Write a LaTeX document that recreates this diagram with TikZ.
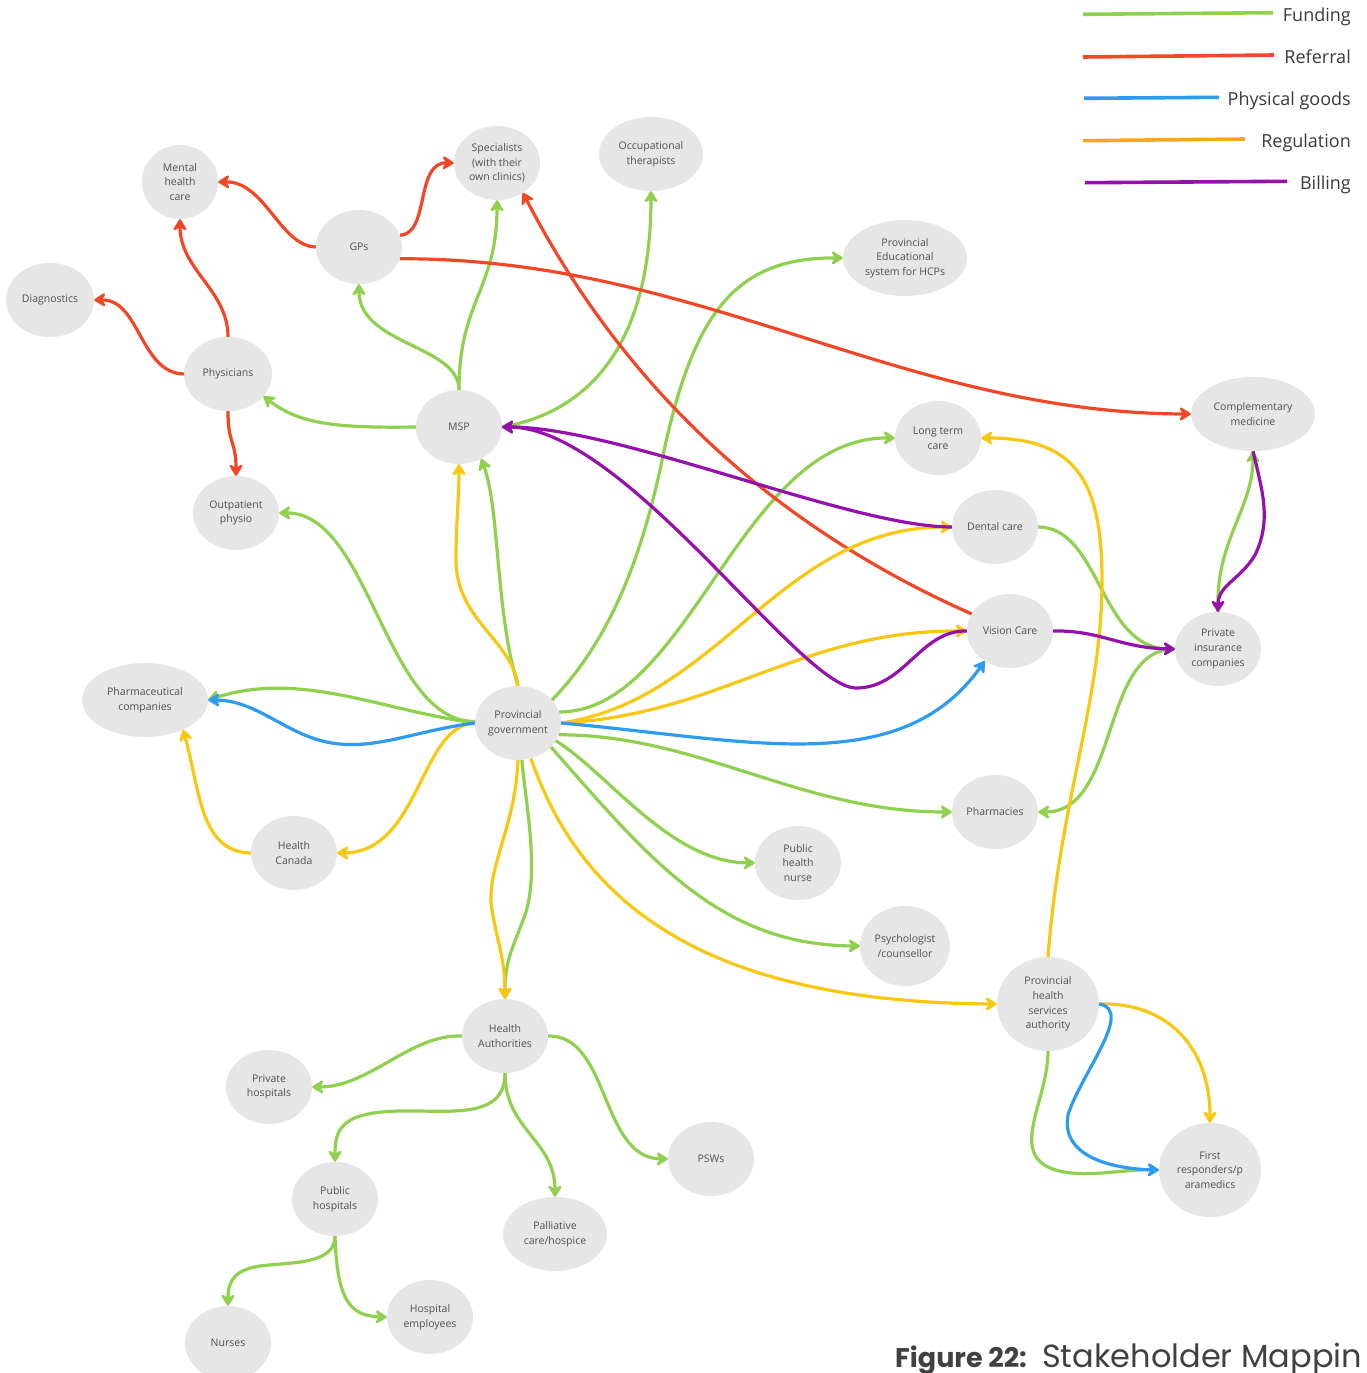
\documentclass[tikz,border=0pt]{standalone}
\usepackage{fontspec}
\setmainfont{Open Sans}
\newfontfamily\capfont{Poppins}
\usetikzlibrary{shapes.geometric,arrows.meta}

\definecolor{cfund}{HTML}{8FD14F}
\definecolor{crefer}{HTML}{F24726}
\definecolor{cgoods}{HTML}{2D9BF0}
\definecolor{cregu}{HTML}{FAC710}
\definecolor{cregulegend}{HTML}{F9A61A}
\definecolor{cbill}{HTML}{9510AC}
\definecolor{nodefill}{HTML}{E6E6E6}
\definecolor{nodetext}{HTML}{505050}
\definecolor{legendtext}{HTML}{3A3A3A}
\definecolor{captext}{HTML}{414141}

\tikzset{
  actor/.style={ellipse, fill=nodefill, inner sep=0pt, align=center,
    text=nodetext, font=\fontsize{10.5}{14.7}\selectfont,
    minimum width=86pt, minimum height=74pt},
  flow/.style={line width=3.2pt,
    -{Stealth[length=14pt,width=17pt,inset=5pt,round]}},
  fund/.style={flow, draw=cfund},
  refer/.style={flow, draw=crefer},
  goods/.style={flow, draw=cgoods},
  regu/.style={flow, draw=cregu},
  bill/.style={flow, draw=cbill},
  swatch/.style={line width=3.6pt},
  keytext/.style={anchor=base east, inner sep=0pt, text=legendtext,
    font=\fontsize{18}{22}\selectfont},
}

\begin{document}
\begin{tikzpicture}[x=1pt,y=-1pt]
\fill[white] (0,0) rectangle (1367,1373);
\useasboundingbox (0,0) rectangle (1367,1373);

% ---------- stakeholders ----------
\node[actor, minimum width=76pt] (ment) at (180,182) {Mental\\health\\care};
\node[actor] (spec) at (497,163) {Specialists\\(with their\\own clinics)};
\node[actor, minimum width=104pt] (occ) at (651,154) {Occupational\\therapists};
\node[actor] (gps) at (359,247) {GPs};
\node[actor, minimum width=124pt, minimum height=76pt] (pes) at (905,258) {Provincial\\Educational\\system for HCPs};
\node[actor, minimum width=88pt] (diag) at (50,300) {Diagnostics};
\node[actor, minimum width=88pt] (phys) at (228,374) {Physicians};
\node[actor] (msp) at (459,427) {MSP};
\node[actor, minimum width=124pt] (comp) at (1253,414) {Complementary\\medicine};
\node[actor] (ltc) at (938,438) {Long term\\care};
\node[actor] (outp) at (236,513) {Outpatient\\physio};
\node[actor] (dent) at (995,527) {Dental care};
\node[actor] (vis) at (1010,631) {Vision Care};
\node[actor] (pins) at (1218,649) {Private\\insurance\\companies};
\node[actor, minimum width=126pt] (pharma) at (145,700) {Pharmaceutical\\companies};
\node[actor] (pg) at (518,723) {Provincial\\government};
\node[actor] (pharm) at (995,812) {Pharmacies};
\node[actor] (hc) at (294,853) {Health\\Canada};
\node[actor] (phn) at (798,863) {Public\\health\\nurse};
\node[actor, minimum width=90pt, minimum height=80pt] (psy) at (905,946) {Psychologist\\/counsellor};
\node[actor, minimum width=102pt, minimum height=94pt] (phsa) at (1048,1004) {Provincial\\health\\services\\authority};
\node[actor] (ha) at (505,1036) {Health\\Authorities};
\node[actor] (priv) at (269,1087) {Private\\hospitals};
\node[actor, minimum width=102pt, minimum height=94pt] (fr) at (1210,1170) {First\\responders/p\\aramedics};
\node[actor] (psw) at (711,1159) {PSWs};
\node[actor] (pubh) at (335,1199) {Public\\hospitals};
\node[actor, minimum width=104pt] (pall) at (555,1234) {Palliative\\care/hospice};
\node[actor] (hosp) at (430,1317) {Hospital\\employees};
\node[actor] (nurse) at (228,1343) {Nurses};

% ---------- funding ----------
\draw[fund] (msp.west) .. controls (340,428) and (300,425) .. (phys.-32);
\draw[fund] (msp.north) .. controls (459,345) and (359,345) .. (gps.south);
\draw[fund] (msp.north) .. controls (459,300) and (497,290) .. (spec.south);
\draw[fund] (pg.north) .. controls (495,610) and (500,510) .. (msp.-55);
\draw[fund] (msp.east) .. controls (600,410) and (651,330) .. (occ.south);
\draw[fund] (pg.34) .. controls (610,640) and (640,560) .. (660,470)
  .. controls (690,320) and (730,257) .. (pes.west);
\draw[fund] (pg.15) .. controls (690,712) and (740,437) .. (ltc.west);
\draw[fund] (pg.178) .. controls (385,722) and (370,512) .. (outp.east);
\draw[fund] (pg.west) .. controls (380,710) and (300,670) .. (pharma.east);
\draw[fund] (pg.-16) .. controls (700,735) and (800,812) .. (pharm.west);
\draw[fund] (pg.-25) .. controls (610,775) and (670,862) .. (phn.west);
\draw[fund] (pg.-36) .. controls (650,860) and (720,945) .. (psy.west);
\draw[fund] (dent.east) .. controls (1100,527) and (1100,648) .. (pins.west);
\draw[fund] (pins.west) .. controls (1100,648) and (1120,812) .. (pharm.east);
\draw[fund] (pins.north) .. controls (1215,540) and (1253,510) .. (comp.south);
\draw[fund] (pg.-84) .. controls (525,800) and (540,870) .. (525,915)
  .. controls (512,950) and (505,960) .. (ha.north);
\draw[fund] (phsa.south) .. controls (1048,1100) and (1010,1150) .. (1050,1168)
  .. controls (1080,1180) and (1120,1169) .. (fr.west);
\draw[fund] (ha.west) .. controls (410,1034) and (370,1087) .. (priv.east);
\draw[fund] (ha.south) .. controls (505,1120) and (450,1110) .. (400,1111)
  .. controls (340,1112) and (335,1130) .. (pubh.north);
\draw[fund] (ha.south) .. controls (505,1130) and (555,1140) .. (pall.north);
\draw[fund] (ha.east) .. controls (610,1035) and (600,1158) .. (psw.west);
\draw[fund] (pubh.south) .. controls (335,1265) and (290,1262) .. (260,1266)
  .. controls (235,1270) and (228,1280) .. (nurse.north);
\draw[fund] (pubh.south) .. controls (337,1300) and (350,1316) .. (hosp.west);

% ---------- referral ----------
\draw[refer] (gps.west) .. controls (280,246) and (265,181) .. (ment.east);
\draw[refer] (gps.16) .. controls (430,234) and (415,162) .. (spec.west);
\draw[refer] (gps.-16) .. controls (700,258) and (900,413) .. (comp.west);
\draw[refer] (phys.north) .. controls (228,290) and (180,270) .. (ment.south);
\draw[refer] (phys.west) .. controls (140,373) and (140,299) .. (diag.east);
\draw[refer] (phys.south) .. controls (228,445) and (236,440) .. (outp.north);
\draw[refer] (vis.156) .. controls (771,525) and (623,386) .. (spec.-49);

% ---------- regulation ----------
\draw[regu] (pg.north) .. controls (512,640) and (456,620) .. (456,560)
  .. controls (456,520) and (459,500) .. (msp.south);
\draw[regu] (pg.east) .. controls (720,700) and (780,527) .. (dent.west);
\draw[regu] (pg.east) .. controls (720,715) and (800,630) .. (vis.west);
\draw[regu] (pg.west) .. controls (420,725) and (420,852) .. (hc.east);
\draw[regu] (hc.west) .. controls (200,852) and (200,790) .. (pharma.-38);
\draw[regu] (pg.south) .. controls (515,830) and (485,870) .. (492,910)
  .. controls (498,945) and (505,960) .. (ha.north);
\draw[regu] (pg.-70) .. controls (580,900) and (700,1002) .. (phsa.west);
\draw[regu] (phsa.north) .. controls (1060,800) and (1102,700) .. (1102,580)
  .. controls (1102,480) and (1075,438) .. (ltc.east);
\draw[regu] (phsa.east) .. controls (1170,1002) and (1210,1050) .. (fr.north);

% ---------- physical goods ----------
\draw[goods] (pg.west) .. controls (420,730) and (380,748) .. (340,744)
  .. controls (290,740) and (260,700) .. (pharma.east);
\draw[goods] (pg.east) .. controls (750,740) and (900,780) .. (vis.-130);
\draw[goods] (phsa.east) .. controls (1135,1010) and (1080,1075) .. (1068,1115)
  .. controls (1060,1160) and (1120,1169) .. (fr.west);

% ---------- billing ----------
\draw[bill] (comp.south) .. controls (1262,490) and (1272,520) .. (1255,555)
  .. controls (1240,580) and (1218,585) .. (pins.north);
\draw[bill] (vis.east) .. controls (1100,630) and (1120,648) .. (pins.west);
\draw[bill] (dent.west) .. controls (850,527) and (620,427) .. (msp.east);
\draw[bill] (vis.west) .. controls (920,630) and (905,688) .. (856,688)
  .. controls (800,688) and (625,427) .. (msp.east);

% ---------- legend ----------
\draw[swatch, cfund] (1083,14.3) -- (1273,12.7);
\node[keytext] (kfund) at (1351,21.5) {Funding};
\draw[swatch, crefer] (1083,57) -- (1274,55);
\node[keytext] (krefer) at (1351,63.5) {Referral};
\draw[swatch, cgoods] (1084,98.3) -- (1219,97.3);
\node[keytext] (kgoods) at (1351,105) {Physical goods};
\draw[swatch, cregulegend] (1083,140.7) -- (1245,139);
\node[keytext] (kregu) at (1351,147) {Regulation};
\draw[swatch, cbill] (1085,182.7) -- (1287,181.3);
\node[keytext] (kbill) at (1351,189) {Billing};

% ---------- caption ----------
\node[anchor=base west, inner sep=0pt, text=captext,
  font=\capfont\fontsize{27}{32}\selectfont\bfseries] (capnum) at (895,1367) {Figure 22:};
\node[anchor=base west, inner sep=0pt, text=captext,
  font=\capfont\fontsize{32}{38}\selectfont] (captitle) at (1042,1367) {Stakeholder Mappin};
\end{tikzpicture}
\end{document}
